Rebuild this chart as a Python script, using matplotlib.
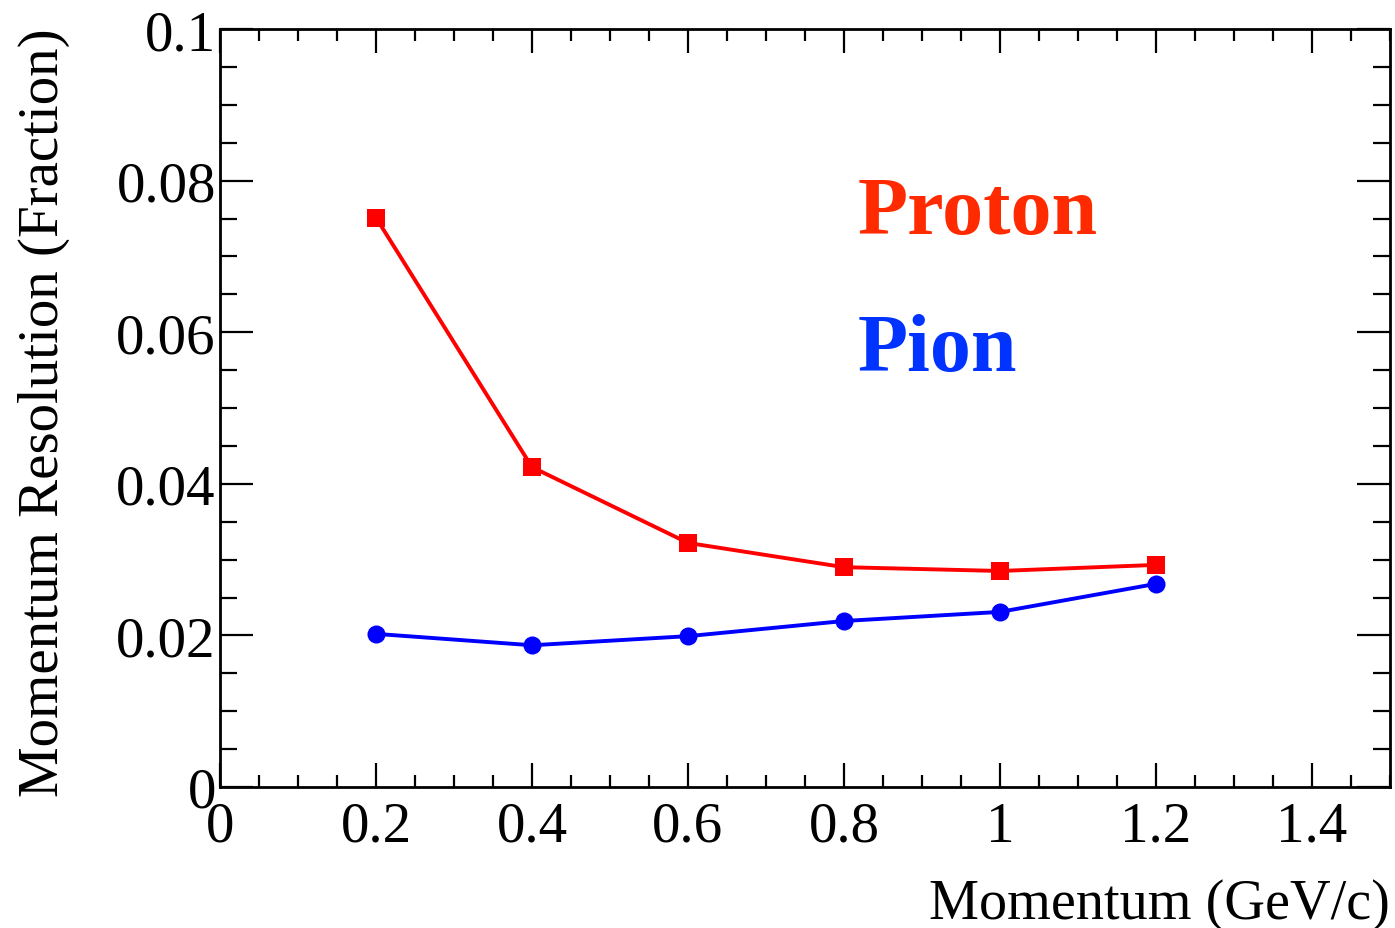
import matplotlib
matplotlib.use("Agg")
import matplotlib.pyplot as plt
from matplotlib.ticker import MultipleLocator

# Momentum points (GeV/c) and fractional momentum resolution
momentum = [0.2, 0.4, 0.6, 0.8, 1.0, 1.2]
proton_res = [0.0751, 0.0422, 0.0322, 0.0290, 0.0285, 0.0293]
pion_res = [0.0202, 0.0187, 0.0199, 0.0219, 0.0231, 0.0268]

x_ticks = [0, 0.2, 0.4, 0.6, 0.8, 1.0, 1.2, 1.4]
x_tick_labels = ["0", "0.2", "0.4", "0.6", "0.8", "1", "1.2", "1.4"]
y_ticks = [0, 0.02, 0.04, 0.06, 0.08, 0.1]
y_tick_labels = ["0", "0.02", "0.04", "0.06", "0.08", "0.1"]

serif = ["Liberation Serif", "DejaVu Serif"]
plt.rcParams["font.family"] = serif

fig = plt.figure(figsize=(13.95, 9.29), dpi=100)
ax = fig.add_axes([220 / 1395, 1 - 788 / 929, 1170 / 1395, 758 / 929])

ax.plot(momentum, proton_res, color="#ff0000", lw=2.8, marker="s",
        markersize=13.5, markeredgewidth=0, zorder=3)
ax.plot(momentum, pion_res, color="#0000ff", lw=2.8, marker="o",
        markersize=13, markeredgewidth=0, zorder=3)

ax.set_xlim(0, 1.5)
ax.set_ylim(0, 0.1)

ax.set_xticks(x_ticks)
ax.set_xticklabels(x_tick_labels)
ax.set_yticks(y_ticks)
ax.set_yticklabels(y_tick_labels)
ax.xaxis.set_minor_locator(MultipleLocator(0.05))
ax.yaxis.set_minor_locator(MultipleLocator(0.005))

for s in ax.spines.values():
    s.set_linewidth(2.0)

ax.tick_params(axis="x", which="major", direction="in", length=17, width=1.6,
               top=True, labelsize=41, pad=10)
ax.tick_params(axis="x", which="minor", direction="in", length=8.5, width=1.6,
               top=True)
ax.tick_params(axis="y", which="major", direction="in", length=24, width=1.6,
               right=True, labelsize=41, pad=3)
ax.tick_params(axis="y", which="minor", direction="in", length=12, width=1.6,
               right=True)

# Axis titles placed in figure pixels: x title right-aligned, y title top-aligned
fig.text(1390 / 1395, 1 - 905 / 929, "Momentum (GeV/c)", fontsize=40.5,
         ha="right", va="center")
fig.text(44 / 1395, 1 - 28 / 929, "Momentum Resolution (Fraction)",
         fontsize=41, rotation=90, ha="center", va="top")

ax.text(0.817, 0.0731, "Proton", color="#ff2a00", fontsize=59,
        fontweight="bold", family=["Liberation Serif", "DejaVu Serif"],
        ha="left", va="baseline")
ax.text(0.817, 0.0550, "Pion", color="#0033ff", fontsize=59,
        fontweight="bold", family=["Liberation Serif", "DejaVu Serif"],
        ha="left", va="baseline")

fig.savefig("out.png", dpi=100)
